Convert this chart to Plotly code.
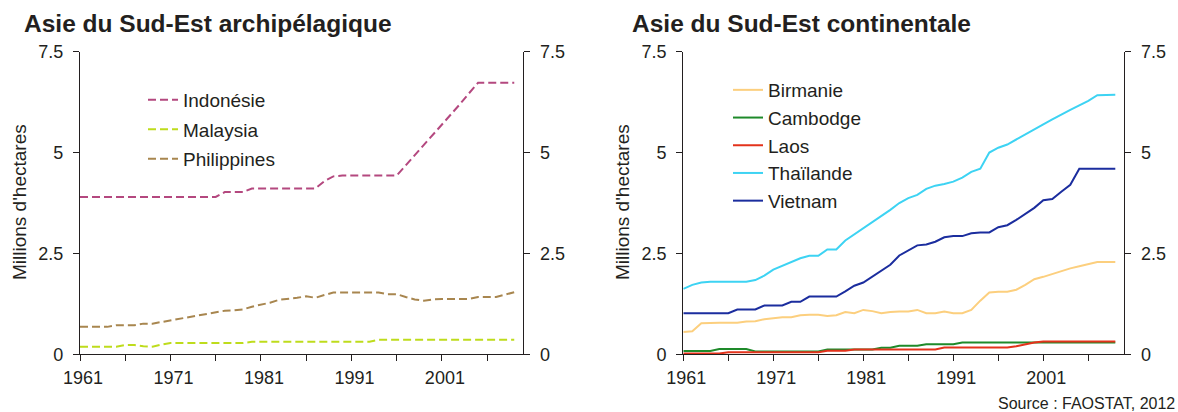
import plotly.graph_objects as go

years = list(range(1961, 2010))

# Asie du Sud-Est archipélagique (millions d'hectares)
indonesie = [3.90, 3.90, 3.90, 3.90, 3.90, 3.90, 3.90, 3.90, 3.90, 3.90,
             3.90, 3.90, 3.90, 3.90, 3.90, 3.90, 4.02, 4.02, 4.02, 4.11,
             4.11, 4.11, 4.11, 4.11, 4.11, 4.11, 4.11, 4.29, 4.41, 4.43,
             4.43, 4.43, 4.43, 4.43, 4.43, 4.43, 4.68, 4.93, 5.18, 5.43,
             5.68, 5.93, 6.20, 6.47, 6.73, 6.73, 6.73, 6.73, 6.73]
malaysia = [0.19, 0.19, 0.19, 0.19, 0.19, 0.23, 0.23, 0.20, 0.19, 0.24,
            0.28, 0.28, 0.28, 0.28, 0.28, 0.28, 0.28, 0.28, 0.28, 0.31,
            0.31, 0.31, 0.31, 0.31, 0.31, 0.31, 0.31, 0.31, 0.31, 0.31,
            0.31, 0.31, 0.31, 0.36, 0.36, 0.36, 0.36, 0.36, 0.36, 0.36,
            0.36, 0.36, 0.36, 0.36, 0.36, 0.36, 0.36, 0.36, 0.36]
philippines = [0.68, 0.68, 0.68, 0.68, 0.72, 0.72, 0.72, 0.76, 0.76, 0.80,
               0.84, 0.88, 0.92, 0.96, 1.00, 1.04, 1.08, 1.09, 1.11, 1.18,
               1.23, 1.28, 1.35, 1.37, 1.40, 1.44, 1.40, 1.47, 1.53, 1.53,
               1.53, 1.53, 1.53, 1.53, 1.49, 1.49, 1.42, 1.36, 1.33, 1.36,
               1.37, 1.37, 1.37, 1.37, 1.42, 1.42, 1.42, 1.48, 1.54]

# Asie du Sud-Est continentale (millions d'hectares)
birmanie = [0.55, 0.57, 0.77, 0.78, 0.78, 0.78, 0.78, 0.81, 0.82, 0.87,
            0.90, 0.92, 0.92, 0.97, 0.98, 0.98, 0.95, 0.97, 1.05, 1.02,
            1.10, 1.07, 1.02, 1.05, 1.06, 1.06, 1.10, 1.02, 1.02, 1.06,
            1.02, 1.02, 1.10, 1.33, 1.53, 1.55, 1.55, 1.60, 1.72, 1.86,
            1.92, 1.99, 2.07, 2.13, 2.18, 2.24, 2.29, 2.29, 2.29]
cambodge = [0.08, 0.08, 0.08, 0.08, 0.13, 0.13, 0.13, 0.13, 0.07, 0.07,
            0.07, 0.07, 0.07, 0.07, 0.07, 0.07, 0.12, 0.12, 0.12, 0.12,
            0.12, 0.12, 0.16, 0.16, 0.21, 0.21, 0.21, 0.25, 0.25, 0.25,
            0.25, 0.29, 0.29, 0.29, 0.29, 0.29, 0.29, 0.29, 0.29, 0.29,
            0.29, 0.29, 0.29, 0.29, 0.29, 0.29, 0.29, 0.29, 0.29]
laos = [0.02, 0.02, 0.02, 0.02, 0.02, 0.05, 0.05, 0.05, 0.05, 0.05,
        0.05, 0.05, 0.05, 0.05, 0.05, 0.05, 0.09, 0.09, 0.09, 0.12,
        0.12, 0.12, 0.12, 0.12, 0.12, 0.12, 0.12, 0.12, 0.12, 0.17,
        0.17, 0.17, 0.17, 0.17, 0.17, 0.17, 0.17, 0.20, 0.25, 0.29,
        0.32, 0.32, 0.32, 0.32, 0.32, 0.32, 0.32, 0.32, 0.32]
thailande = [1.62, 1.72, 1.78, 1.80, 1.80, 1.80, 1.80, 1.80, 1.84, 1.95,
             2.10, 2.20, 2.29, 2.38, 2.44, 2.44, 2.60, 2.60, 2.82, 2.97,
             3.12, 3.28, 3.43, 3.58, 3.75, 3.87, 3.95, 4.10, 4.18, 4.22,
             4.28, 4.38, 4.52, 4.60, 5.00, 5.12, 5.20, 5.33, 5.45, 5.58,
             5.70, 5.82, 5.95, 6.06, 6.17, 6.28, 6.42, 6.43, 6.43]
vietnam = [1.02, 1.02, 1.02, 1.02, 1.02, 1.02, 1.11, 1.11, 1.11, 1.21,
           1.21, 1.21, 1.30, 1.30, 1.43, 1.43, 1.43, 1.43, 1.56, 1.70,
           1.78, 1.93, 2.07, 2.22, 2.45, 2.58, 2.70, 2.72, 2.79, 2.90,
           2.93, 2.93, 3.00, 3.02, 3.02, 3.15, 3.20, 3.33, 3.48, 3.63,
           3.82, 3.85, 4.03, 4.20, 4.60, 4.60, 4.60, 4.60, 4.60]

# (name, values, colour, y-axis used) -- the first series of each panel is
# drawn against the right-hand axis so that this axis is rendered.
left_series = [("Indonésie", indonesie, "#B4487F", "y3"),
               ("Malaysia", malaysia, "#BEDC1C", "y"),
               ("Philippines", philippines, "#A8864F", "y")]
right_series = [("Birmanie", birmanie, "#FCCF7E", "y4"),
                ("Cambodge", cambodge, "#1E8A2A", "y2"),
                ("Laos", laos, "#E3321B", "y2"),
                ("Thaïlande", thailande, "#3DD3F3", "y2"),
                ("Vietnam", vietnam, "#1B2D9E", "y2")]

x_tickvals = [1961, 1971, 1981, 1991, 2001]
y_tickvals = [0, 2.5, 5, 7.5]
y_ticktext = ["0", "2.5", "5", "7.5"]

FONT = "Liberation Sans, Arial, sans-serif"
INK = "#231f20"
W, H = 1178, 412

fig = go.Figure()
for i, (name, vals, col, ya) in enumerate(left_series):
    fig.add_trace(go.Scatter(x=years, y=vals, name=name, mode="lines",
                             line=dict(color=col, width=2, dash="8px,4px"),
                             xaxis="x", yaxis=ya, legend="legend",
                             legendgroup="L%d" % i, hoverinfo="x+y+name"))
for i, (name, vals, col, ya) in enumerate(right_series):
    fig.add_trace(go.Scatter(x=years, y=vals, name=name, mode="lines",
                             line=dict(color=col, width=2),
                             xaxis="x2", yaxis=ya, legend="legend2",
                             legendgroup="R%d" % i, hoverinfo="x+y+name"))


def px_x(p):
    return p / W


def px_y(p):
    return 1 - p / H


ydom = [px_y(354.3), px_y(51.7)]
xdom1 = [px_x(80), px_x(523.3)]
xdom2 = [px_x(683.3), px_x(1124.3)]

tickfont = dict(family=FONT, size=18, color=INK)


def xaxis(dom, anchor):
    return dict(domain=dom, anchor=anchor, range=[1961, 2010],
                showline=True, linecolor=INK, linewidth=1.3,
                ticks="outside", ticklen=6, tickwidth=1.3, tickcolor=INK,
                tickmode="array", tickvals=x_tickvals,
                minor=dict(tickmode="linear", tick0=1961, dtick=5, ticks="outside",
                           ticklen=6, tickwidth=1.3, tickcolor=INK, showgrid=False),
                showgrid=False, zeroline=False, tickfont=tickfont,
                ticklabelshift=3, ticklabelstandoff=1, automargin=False)


def yaxis(anchor, side, overlay=None):
    d = dict(anchor=anchor, side=side, range=[0, 7.5],
             showline=True, linecolor=INK, linewidth=1.3,
             ticks="outside", ticklen=6, tickwidth=1.3, tickcolor=INK,
             tickmode="array", tickvals=y_tickvals, ticktext=y_ticktext,
             showgrid=False, zeroline=False, tickfont=tickfont,
             ticklabelstandoff=6, automargin=False)
    if overlay:
        d["overlaying"] = overlay
    else:
        d["domain"] = ydom
    return d


legend_common = dict(font=dict(family=FONT, size=19, color=INK),
                     bgcolor="rgba(0,0,0,0)", traceorder="grouped",
                     itemwidth=30, xanchor="left", yanchor="top",
                     itemclick=False, itemdoubleclick=False)

fig.update_layout(
    template="none",
    width=W, height=H,
    margin=dict(l=0, r=0, t=0, b=0, autoexpand=False),
    paper_bgcolor="white", plot_bgcolor="white",
    showlegend=True,
    hovermode="closest",
    xaxis=xaxis(xdom1, "y"),
    yaxis=yaxis("x", "left"),
    yaxis3=yaxis("x", "right", "y"),
    xaxis2=xaxis(xdom2, "y2"),
    yaxis2=yaxis("x2", "left"),
    yaxis4=yaxis("x2", "right", "y2"),
    legend=dict(x=px_x(143), y=px_y(81), tracegroupgap=1.8, **legend_common),
    legend2=dict(x=px_x(728), y=px_y(71), tracegroupgap=0, **legend_common),
    annotations=[
        dict(text="<b>Asie du Sud-Est archipélagique</b>", xref="paper", yref="paper",
             x=px_x(22), y=px_y(23.5), xanchor="left", yanchor="middle",
             showarrow=False, font=dict(family=FONT, size=24.5, color=INK)),
        dict(text="<b>Asie du Sud-Est continentale</b>", xref="paper", yref="paper",
             x=px_x(630), y=px_y(23.5), xanchor="left", yanchor="middle",
             showarrow=False, font=dict(family=FONT, size=24.5, color=INK)),
        dict(text="Millions d'hectares", xref="paper", yref="paper",
             x=px_x(19), y=px_y(202), xanchor="center", yanchor="middle",
             textangle=-90, showarrow=False, font=dict(family=FONT, size=19, color=INK)),
        dict(text="Millions d'hectares", xref="paper", yref="paper",
             x=px_x(622), y=px_y(202), xanchor="center", yanchor="middle",
             textangle=-90, showarrow=False, font=dict(family=FONT, size=19, color=INK)),
        dict(text="Source : FAOSTAT, 2012", xref="paper", yref="paper",
             x=px_x(1177), y=px_y(403), xanchor="right", yanchor="middle",
             showarrow=False, font=dict(family=FONT, size=16, color=INK)),
    ],
)

fig.write_html("out.html", config={"displayModeBar": False},
               post_script="document.body.style.margin='0';document.body.style.overflow='hidden';")
